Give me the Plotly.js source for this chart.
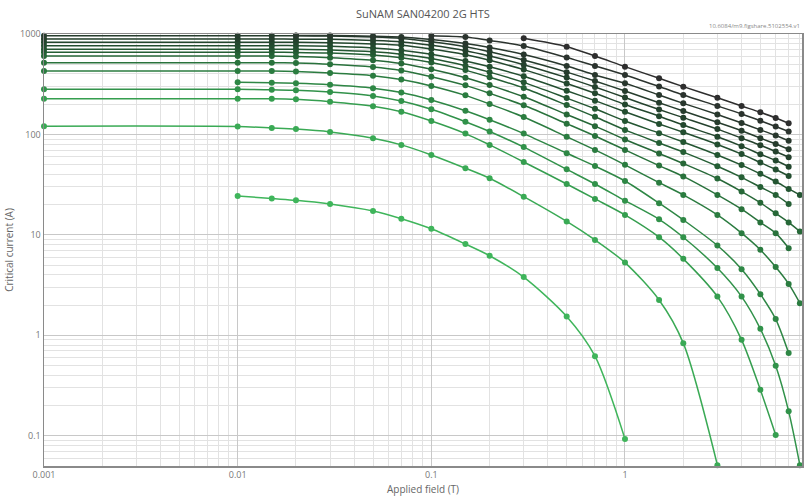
<!DOCTYPE html>
<html>
<head>
<meta charset="utf-8">
<script src="https://cdn.plot.ly/plotly-3.0.1.min.js"></script>
<style>html,body{margin:0;padding:0;background:#fff;}#chart{width:804px;height:496px;}</style>
</head>
<body>
<div id="chart"></div>
<script>
// Applied field (T) grids
var xFull = [0.001,0.01,0.015,0.02,0.03,0.05,0.07,0.1,0.15,0.2,0.3,0.5,0.7,1,1.5,2,3,4,5,6,7];
var xFull8 = [0.001,0.01,0.015,0.02,0.03,0.05,0.07,0.1,0.15,0.2,0.3,0.5,0.7,1,1.5,2,3,4,5,6,7,8];
var xFrom001to7 = [0.01,0.015,0.02,0.03,0.05,0.07,0.1,0.15,0.2,0.3,0.5,0.7,1,1.5,2,3,4,5,6,7];
var xTo6 = [0.001,0.01,0.015,0.02,0.03,0.05,0.07,0.1,0.15,0.2,0.3,0.5,0.7,1,1.5,2,3,4,5,6];
var xTo3 = [0.001,0.01,0.015,0.02,0.03,0.05,0.07,0.1,0.15,0.2,0.3,0.5,0.7,1,1.5,2,3];
var xTo1 = [0.01,0.015,0.02,0.03,0.05,0.07,0.1,0.15,0.2,0.3,0.5,0.7,1];
var xFrom002 = [0.02,0.03,0.05,0.07,0.1,0.15,0.2,0.3,0.5,0.7,1,1.5,2,3,4,5,6,7];
var xFrom01 = [0.1,0.15,0.2,0.3,0.5,0.7,1,1.5,2,3,4,5,6,7];
var xFrom03 = [0.3,0.5,0.7,1,1.5,2,3,4,5,6,7];

// Critical current (A), curves from lowest (lightest green) to highest (darkest)
var ic01 = [24.4,23,22.1,20.3,17.3,14.5,11.5,8.1,6.2,3.8,1.54,0.62,0.093];
var ic02 = [121,120,116,113,106,91.7,78.7,62.5,46.1,36.6,24,13.6,8.9,5.3,2.25,0.836,0.051];
var ic03 = [227,227,227,224,212,191,168,136,102,78.7,53.2,32.1,22.8,15.8,9.48,5.77,2.43,0.902,0.287,0.102];
var ic04 = [282,282,278,275,264,242,215,178,134,107,74.8,44.9,32.1,21.9,14.3,9.48,4.67,2.43,1.16,0.498,0.175,0.051];
var ic05 = [330,327,323,312,289,261,220,172,140,102,64.9,48.4,34.4,20.7,14.1,7.83,4.56,2.57,1.45,0.665];
var ic06 = [428,428,428,424,410,385,352,304,245,201,149,94.8,70.1,49.8,33.1,25,15.8,10.4,7.1,4.78,3.25,2.09];
var ic07 = [518,518,518,513,499,469,433,376,308,257,195,128,96.6,70.1,49,38.2,25,18,13.3,10.4,7.38];
var ic08 = [604,604,604,598,581,548,508,445,367,310,237,158,121,89.1,64.6,51.3,36.4,27,20.9,16.4,13.3,10.8];
var ic09 = [658,658,658,656,646,618,581,521,437,372,290,196,150,111,82.2,66.7,48.3,37.4,29.9,25,20.3];
var ic10 = [705,705,705,703,693,665,628,569,483,417,330,230,180,136,103,84,62.5,49.5,40.5,34,28.7,25];
var ic11 = [766,766,766,766,753,726,689,628,538,471,380,272,217,168,127,105,79.4,63.7,52.5,44.8,38.6];
var ic12 = [826,826,826,826,820,796,771,708,622,547,442,322,257,199,152,124,94.8,76.5,63.5,55.1,47.8];
var ic13 = [891,891,891,889,885,861,834,771,682,604,495,368,297,233,177,147,113,91.8,78.2,67.6,59.3];
var ic14 = [962,962,962,959,955,931,902,836,746,667,551,417,340,271,207,171,132,109,91.8,80.4,71.3];
var ic15 = [966,964,951,933,881,804,734,625,481,391,323,247,204,158,130,111,97.7,86.7];
var ic16 = [962,933,861,760,583,481,391,300,247,192,160,137,120,107];
var ic17 = [906,748,604,473,362,299,232,192,166,146,129];

var seriesX = [xTo1,xTo3,xTo6,xFull8,xFrom001to7,xFull8,xFull,xFull8,xFull,xFull8,xFull,xFull,xFull,xFull,xFrom002,xFrom01,xFrom03];
var seriesY = [ic01,ic02,ic03,ic04,ic05,ic06,ic07,ic08,ic09,ic10,ic11,ic12,ic13,ic14,ic15,ic16,ic17];
var colors = ['#3fb55b','#3aaa55','#359e4f','#31924a','#2e8745','#2b7c40','#29723c','#276838','#255f35','#245632','#234e30','#23472e','#24412d','#263c2d','#28372d','#2b332e','#2e2e2e'];

var traces = [];
for (var i = 0; i < seriesY.length; i++) {
  traces.push({
    x: seriesX[i], y: seriesY[i], type: 'scatter', mode: 'lines+markers',
    line: {color: colors[i], width: 1.5, shape: 'spline', smoothing: 0.8},
    marker: {color: colors[i], size: 6},
    cliponaxis: false, showlegend: false, hoverinfo: 'x+y'
  });
}

var xMajor = [0.001,0.01,0.1,1];
var xMinor = [];
var yMajor = [0.1,1,10,100,1000];
var yMinor = [];
[0.001,0.01,0.1,1].forEach(function(d){ for (var k=2;k<=9;k++) xMinor.push(+(d*k).toPrecision(3)); });
[0.01,0.1,1,10,100].forEach(function(d){ for (var k=2;k<=9;k++) yMinor.push(+(d*k).toPrecision(3)); });

var layout = {
  width: 804, height: 496,
  margin: {l: 44, r: 2, t: 34, b: 30},
  paper_bgcolor: '#ffffff', plot_bgcolor: '#ffffff',
  font: {family: 'Open Sans, sans-serif', color: '#777', size: 9},
  title: {text: 'SuNAM SAN04200 2G HTS', x: 0.526, xanchor: 'center', y: 0.972, yanchor: 'middle',
          font: {size: 11, color: '#555', family: 'Open Sans, sans-serif'}},
  xaxis: {
    type: 'log', range: [-3, 0.914],
    tickvals: xMajor, ticktext: ['0.001','0.01','0.1','1'],
    showgrid: true, gridcolor: '#c8c8c8', gridwidth: 1,
    minor: {tickvals: xMinor, showgrid: true, gridcolor: '#e2e2e2', gridwidth: 1},
    showline: true, linecolor: '#8a8a8a', linewidth: 1.5, mirror: true,
    ticks: '', zeroline: false,
    tickfont: {size: 9, color: '#777'},
    title: {text: 'Applied field (T)', font: {size: 10, color: '#666'}, standoff: 6}
  },
  yaxis: {
    type: 'log', range: [-1.301, 3],
    tickvals: yMajor, ticktext: ['0.1','1','10','100','1000'],
    showgrid: true, gridcolor: '#c8c8c8', gridwidth: 1,
    minor: {tickvals: yMinor, showgrid: true, gridcolor: '#e2e2e2', gridwidth: 1},
    showline: true, linecolor: '#8a8a8a', linewidth: 1.5, mirror: true,
    ticks: '', zeroline: false,
    tickfont: {size: 9, color: '#777'},
    title: {text: 'Critical current (A)', font: {size: 10, color: '#666'}, standoff: 4}
  },
  annotations: [{
    text: '10.6084/m9.figshare.5102554.v1', xref: 'paper', yref: 'paper',
    x: 1, y: 1, xanchor: 'right', yanchor: 'bottom', yshift: 2, showarrow: false,
    font: {size: 6, color: '#888'}
  }]
};

Plotly.newPlot('chart', traces, layout, {displayModeBar: false, staticPlot: true});
</script>
</body>
</html>
